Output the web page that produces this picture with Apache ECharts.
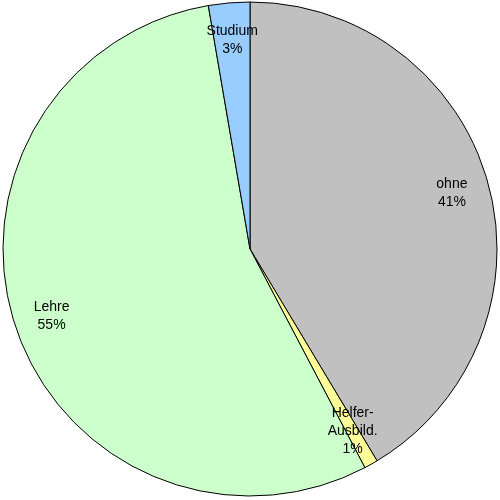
<!DOCTYPE html>
<html>
<head>
<meta charset="utf-8">
<script src="https://cdn.jsdelivr.net/npm/echarts@6/dist/echarts.min.js"></script>
<style>
	html, body { margin: 0; padding: 0; background: #fff; }
	#main { width: 500px; height: 500px; }
</style>
</head>
<body>
<div id="main"></div>
<script>
	// Anteile in Prozent, im Uhrzeigersinn ab 12 Uhr
	var categories = ['ohne', 'Helfer-\nAusbild.', 'Lehre', 'Studium'];
	var values = [41.4, 0.9, 55.0, 2.7];
	var colors = ['#C0C0C0', '#FFFF99', '#CCFFCC', '#99CCFF'];

	var myChart = echarts.init(document.getElementById('main'));

	var pieData = [];
	for (var i = 0; i < categories.length; i++) {
		pieData.push({
			name: categories[i],
			value: values[i],
			itemStyle: { color: colors[i] }
		});
	}

	var option = {
		animation: false,
		backgroundColor: '#fff',
		series: [{
				// die eigentliche Torte
				type: 'pie',
				center: [250, 249],
				radius: [0, 247],
				startAngle: 90,
				clockwise: true,
				silent: true,
				label: { show: false },
				labelLine: { show: false },
				itemStyle: {
					borderColor: '#000',
					borderWidth: 1
				},
				data: pieData
			},
			{
				// nur Beschriftung, liegt weit aussen im Ring
				type: 'pie',
				center: [250, 249],
				radius: [166, 247],
				startAngle: 90,
				clockwise: true,
				silent: true,
				itemStyle: { color: 'transparent', borderWidth: 0 },
				labelLine: { show: false },
				label: {
					show: true,
					position: 'inside',
					fontFamily: 'Liberation Sans, Arial, sans-serif',
					fontSize: 14,
					color: '#000',
					lineHeight: 18,
					align: 'center',
					formatter: function (p) {
						return p.name + '\n' + Math.round(p.value) + '%';
					}
				},
				data: pieData.map(function (d) {
					return { name: d.name, value: d.value };
				})
			}
		]
	};

	option && myChart.setOption(option);
</script>
</body>
</html>
